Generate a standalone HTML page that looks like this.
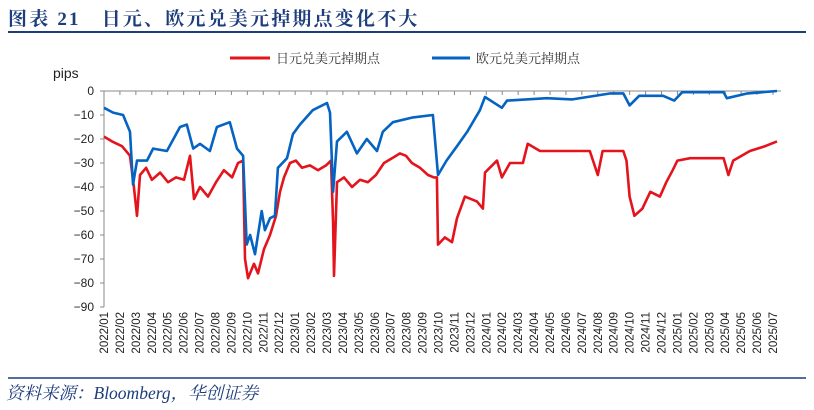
<!DOCTYPE html>
<html><head><meta charset="utf-8">
<style>
html,body{margin:0;padding:0;background:#fff;}
body{width:814px;height:410px;overflow:hidden;position:relative;font-family:"Liberation Sans","Noto Sans CJK SC",sans-serif;}
.title{position:absolute;left:8px;top:4px;font-size:19px;font-weight:bold;color:#1d3d7c;font-family:"Liberation Serif","Noto Serif CJK SC",serif;letter-spacing:2.2px;white-space:nowrap;}
.src{position:absolute;left:6px;top:380px;font-size:17.5px;font-style:italic;color:#1d3d7c;font-family:"Liberation Serif","Noto Serif CJK SC",serif;white-space:nowrap;}
</style></head><body>
<div class="title">图表 21&nbsp;&nbsp;&nbsp;日元、欧元兑美元掉期点变化不大</div>
<svg width="814" height="410" style="position:absolute;left:0;top:0">
<line x1="8" y1="32" x2="806" y2="32" stroke="#1d3d7c" stroke-width="2"/>
<line x1="8" y1="378" x2="806" y2="378" stroke="#1d3d7c" stroke-width="1.5"/>
<g>
<line x1="230" y1="58" x2="270" y2="58" stroke="#e3141c" stroke-width="3"/>
<text x="276" y="63" font-size="13" fill="#333" font-family="Liberation Serif,Noto Serif CJK SC,serif">日元兑美元掉期点</text>
<line x1="432" y1="58" x2="470" y2="58" stroke="#0563c1" stroke-width="3"/>
<text x="476" y="63" font-size="13" fill="#333" font-family="Liberation Serif,Noto Serif CJK SC,serif">欧元兑美元掉期点</text>
</g>
<text x="53" y="78" font-size="14" fill="#222">pips</text>
<g id="axes"></g>
<g id="series"></g>
</svg>
<div class="src">资料来源：Bloomberg，华创证券</div>
<script>
const yTicks=[0,-10,-20,-30,-40,-50,-60,-70,-80,-90];
const monthLabels=[];
for(let y=2022;y<=2025;y++)for(let m=1;m<=12;m++){if(y===2025&&m>7)break;monthLabels.push(y+'/'+String(m).padStart(2,'0'));}
const jpyMonths=[0,0.5,1.13,1.63,1.88,2.07,2.26,2.64,3.01,3.52,4.02,4.52,5.02,5.4,5.65,6.03,6.53,7.03,7.53,8.04,8.41,8.73,8.85,9.04,9.42,9.67,10.04,10.42,10.8,11.05,11.3,11.68,12.05,12.43,12.93,13.43,13.94,14.25,14.38,14.44,14.63,15.07,15.57,16.07,16.57,17.07,17.58,18.08,18.58,18.96,19.33,19.84,20.34,20.72,20.9,20.97,21.4,21.85,22.16,22.66,23.41,23.79,23.92,24.67,24.98,25.49,26.3,26.6,27.37,28.63,30.5,31,31.3,32.6,32.8,33.0,33.3,33.8,34.3,34.9,35.3,35.7,36.0,36.8,38.9,39.2,39.5,40.55,41.5,42.25];
const jpyValues=[-19,-21,-23,-27,-40,-52,-35,-32,-37,-34,-38,-36,-37,-27,-45,-40,-44,-38,-33,-36,-30,-29,-70,-78,-72,-76,-66,-60,-52,-42,-36,-30,-29,-32,-31,-33,-31,-29,-55,-77,-38,-36,-40,-37,-38,-35,-30,-28,-26,-27,-30,-32,-35,-36,-36,-64,-61,-63,-53,-44,-46,-49,-34,-29,-36,-30,-30,-22,-25,-25,-25,-35,-25,-25,-29,-44,-52,-49,-42,-44,-38,-33,-29,-28,-28,-35,-29,-25,-23,-21];
const eurMonths=[0,0.57,1.2,1.63,1.82,2.07,2.7,3.08,3.95,4.77,5.2,5.6,6.03,6.65,7.09,7.9,8.35,8.73,8.96,9.17,9.48,9.9,10.1,10.42,10.73,10.92,11.49,11.86,12.3,13.1,14.0,14.19,14.38,14.63,15.25,15.88,16.5,17.14,17.5,18.14,19.4,20.65,20.97,21.5,22.16,22.8,23.6,23.92,24.98,25.3,27.8,29.4,31.8,32.6,33.0,33.6,35.1,35.8,36.3,38.9,39.1,40.4,42.25];
const eurValues=[-7,-9,-10,-17,-39,-29,-29,-24,-25,-15,-14,-24,-22,-25,-15,-13,-24,-27,-64,-60,-68,-50,-58,-53,-52,-32,-28,-18,-14,-8,-5,-9,-42,-21,-17,-26,-20,-25,-17,-13,-11,-10,-35,-29,-23,-17,-8,-2.5,-7,-4,-3,-3.5,-1,-1,-6,-2,-2,-4,-0.5,-0.5,-3,-1,0];

const X0=104,X1=781,Y0=91,Y1=307,NS='http://www.w3.org/2000/svg';
const xs=m=>X0+m*(773-104)/42;
const ys=v=>Y0+(0-v)/90*(Y1-Y0);
const axes=document.getElementById('axes'),series=document.getElementById('series');
function mk(t,a,p){const e=document.createElementNS(NS,t);for(const k in a)e.setAttribute(k,a[k]);p.appendChild(e);return e;}
const yl=mk('line',{x1:X0,y1:Y0,x2:X0,y2:Y1,stroke:'#888'},axes);


const xl=mk('line',{x1:X0,y1:Y0,x2:X1,y2:Y0,stroke:'#888'},axes);


yTicks.forEach(v=>{
  mk('line',{x1:X0-4,y1:ys(v),x2:X0,y2:ys(v),stroke:'#888'},axes);
  const t=mk('text',{x:X0-10,y:ys(v)+4,'font-size':12,'text-anchor':'end',fill:'#222'},axes);
  t.textContent=String(v).replace('-','−');
  
  
});
monthLabels.forEach((l,i)=>{
  const x=xs(i);
  mk('line',{x1:x,y1:Y0,x2:x,y2:Y0+4,stroke:'#888'},axes);
  const t=mk('text',{x:0,y:0,'font-size':11.5,'text-anchor':'end',fill:'#222',transform:`translate(${x+4},312) rotate(-90)`},axes);
  t.textContent=l;
  
  
});
function draw(ms,vs,col,name){
  const d=ms.map((m,i)=>(i?'L':'M')+xs(m).toFixed(1)+','+ys(vs[i]).toFixed(1)).join('');
  const p=mk('path',{d:d,fill:'none',stroke:col,'stroke-width':2.6,'stroke-linejoin':'round'},series);
  
  
}
draw(jpyMonths,jpyValues,'#e3141c','jpy-swap-line');
draw(eurMonths,eurValues,'#0563c1','eur-swap-line');
</script>
</body></html>
